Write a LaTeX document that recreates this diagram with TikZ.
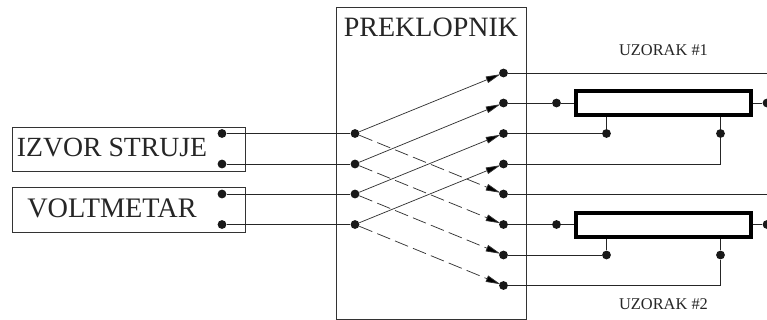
\documentclass[tikz,border=0pt]{standalone}
\usepackage{fontspec}
\setmainfont{Liberation Serif}
\usetikzlibrary{arrows.meta}
\tikzset{
  x=0.75pt,y=-0.75pt,
  wire/.style={line width=0.6pt,draw=black!85},
  frame/.style={draw=black!80,line width=0.7pt},
  dotn/.style={circle,fill=black!90,inner sep=0pt,minimum size=6.6pt},
  sw/.style={line width=0.55pt,draw=black!80,shorten >=-1pt,-{Triangle[length=11pt,width=5pt,fill=black]}},
  swd/.style={sw,dash pattern=on 10.5pt off 4pt},
  sample/.style={draw=black,line width=2.8pt,fill=white,minimum width=131pt,minimum height=17.5pt,inner sep=0pt},
  lab/.style={inner sep=0pt,anchor=base,text=black!85},
}
\begin{document}
\begin{tikzpicture}
\useasboundingbox (0,0) rectangle (767,320);
\fill[white] (0,0) rectangle (767,320);
% boxes
\draw[frame] (336.5,7.5) rectangle (526,319);
\draw[frame] (12.5,127) rectangle (245.5,171.5);
\draw[frame] (12.5,187) rectangle (245.5,232);
\node[lab,font=\fontsize{21pt}{21pt}\selectfont] (title) at (431,37) {PREKLOPNIK};
\node[lab,font=\fontsize{20.8pt}{21pt}\selectfont] (izvor) at (112,157) {IZVOR STRUJE};
\node[lab,font=\fontsize{21.2pt}{21pt}\selectfont] (volt) at (112,218) {VOLTMETAR};
\node[lab,font=\fontsize{12.3pt}{13pt}\selectfont] (u1) at (663.5,55.5) {UZORAK \#1};
\node[lab,font=\fontsize{12.3pt}{13pt}\selectfont] (u2) at (663.5,310) {UZORAK \#2};
% source dots
\foreach \n/\y in {a/133.5,b/164,c/194,d/224.5}{
  \node[dotn] (s\n) at (222,\y) {};
  \node[dotn] (l\n) at (355,\y) {};
}
\foreach \n/\y in {1/73,2/103,3/133.5,4/164,5/194,6/224.5,7/255,8/285.5}{
  \node[dotn] (r\n) at (503.5,\y) {};
}
\foreach \n in {a,b,c,d}{\draw[wire] (s\n) -- (l\n);}
% switch arms
\draw[sw] (la) -- (r1);
\draw[sw] (lb) -- (r2);
\draw[sw] (lc) -- (r3);
\draw[sw] (ld) -- (r4);
\draw[swd] (la) -- (r5);
\draw[swd] (lb) -- (r6);
\draw[swd] (lc) -- (r7);
\draw[swd] (ld) -- (r8);
% samples
\node[sample] (p1) at (663.3,103) {};
\node[sample] (p2) at (663.3,225) {};
\coordinate (e1) at (767,73);
\coordinate (e5) at (767,194);
\draw[wire] (r1) -- (e1);
\draw[wire] (r5) -- (e5);
% sample 1
\node[dotn] (c1) at (556.5,103) {};
\node[dotn] (f1) at (767,103) {};
\node[dotn] (g1) at (606.5,133.5) {};
\node[dotn] (h1) at (720.5,133.5) {};
\draw[wire] (r2) -- (c1) -- (p1.west |- c1);
\draw[wire] (p1.east |- f1) -- (f1);
\draw[wire] (r3) -- (g1);
\draw[wire] (g1) -- (g1 |- p1.south);
\draw[wire] (h1 |- p1.south) -- (h1);
\draw[wire] (r4) -| (h1);
% sample 2
\node[dotn] (c2) at (556.5,224.5) {};
\node[dotn] (f2) at (767,224.5) {};
\node[dotn] (g2) at (606.5,255) {};
\node[dotn] (h2) at (720.5,255) {};
\draw[wire] (r6) -- (c2) -- (p2.west |- c2);
\draw[wire] (p2.east |- f2) -- (f2);
\draw[wire] (r7) -- (g2);
\draw[wire] (g2) -- (g2 |- p2.south);
\draw[wire] (h2 |- p2.south) -- (h2);
\draw[wire] (r8) -| (h2);
\end{tikzpicture}
\end{document}
